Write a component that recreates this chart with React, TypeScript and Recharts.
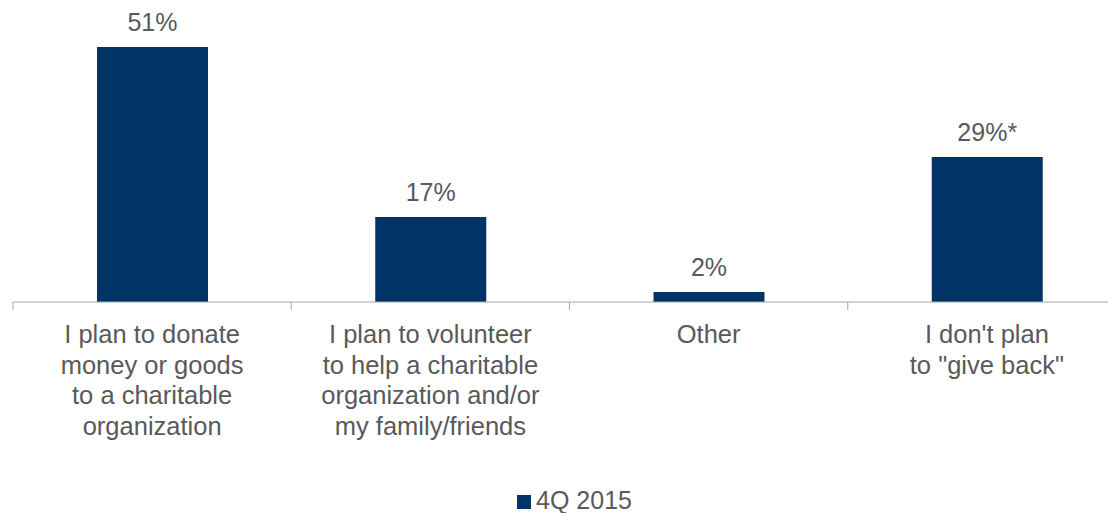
import { BarChart, Bar, XAxis, YAxis, Legend, LabelList } from "recharts"

const categories = [
  ["I plan to donate", "money or goods", "to a charitable", "organization"],
  ["I plan to volunteer", "to help a charitable", "organization and/or", "my family/friends"],
  ["Other"],
  ["I don't plan", 'to "give back"'],
]
const values = [51, 17, 2, 29]
const valueLabels = ["51%", "17%", "2%", "29%*"]
const seriesName = "4Q 2015"

const data = categories.map((lines, i) => ({
  name: lines.join(" "),
  lines,
  value: values[i],
  label: valueLabels[i],
}))

const WIDTH = 1140
const MARGIN = { top: 2, right: 14, left: 13, bottom: 0 }
const BAND = (WIDTH - MARGIN.left - MARGIN.right) / categories.length
const TEXT = "#595959"
const FONT = "'Liberation Sans', Arial, sans-serif"
const BAR = "#003366"

function CategoryTick(props: any) {
  const { x, y, index } = props
  const lines = data[index]?.lines ?? []
  return (
    <g>
      <line x1={x - BAND / 2} x2={x - BAND / 2} y1={y} y2={y + 8} stroke="#a6a6a6" />
      <text x={x} y={y} textAnchor="middle" fill={TEXT} fontSize={25.5} fontFamily={FONT}>
        {lines.map((l: string, i: number) => (
          <tspan key={i} x={x} dy={i === 0 ? 41 : 30.5}>
            {l}
          </tspan>
        ))}
      </text>
    </g>
  )
}

function ValueLabel(props: any) {
  const { x, y, width, index } = props
  return (
    <text x={x + width / 2} y={y - 16} textAnchor="middle" fill={TEXT} fontSize={25} fontFamily={FONT}>
      {data[index].label}
    </text>
  )
}

function LegendContent() {
  return (
    <div
      style={{
        height: 40,
        paddingTop: 15,
        paddingLeft: 10,
        boxSizing: "border-box",
        textAlign: "center",
        fontFamily: FONT,
        fontSize: 25,
        lineHeight: "25px",
        color: TEXT,
      }}
    >
      <span style={{ display: "inline-block", width: 14, height: 14, background: BAR, marginRight: 5 }} />
      {seriesName}
    </div>
  )
}

export default function App() {
  return (
    <div style={{ position: "absolute", left: 0, top: 0, width: 1108, height: 513, overflow: "hidden", background: "#fff" }}>
      <BarChart width={WIDTH} height={513} data={data} margin={MARGIN}>
        <YAxis hide domain={[0, 60]} />
        <XAxis
          dataKey="name"
          height={171}
          tickSize={0}
          tickMargin={0}
          tickLine={false}
          axisLine={{ stroke: "#a6a6a6" }}
          interval={0}
          tick={<CategoryTick />}
        />
        <Legend verticalAlign="bottom" height={40} content={<LegendContent />} />
        <Bar dataKey="value" name={seriesName} fill={BAR} barSize={111} isAnimationActive={false}>
          <LabelList dataKey="label" content={<ValueLabel />} />
        </Bar>
      </BarChart>
    </div>
  )
}
